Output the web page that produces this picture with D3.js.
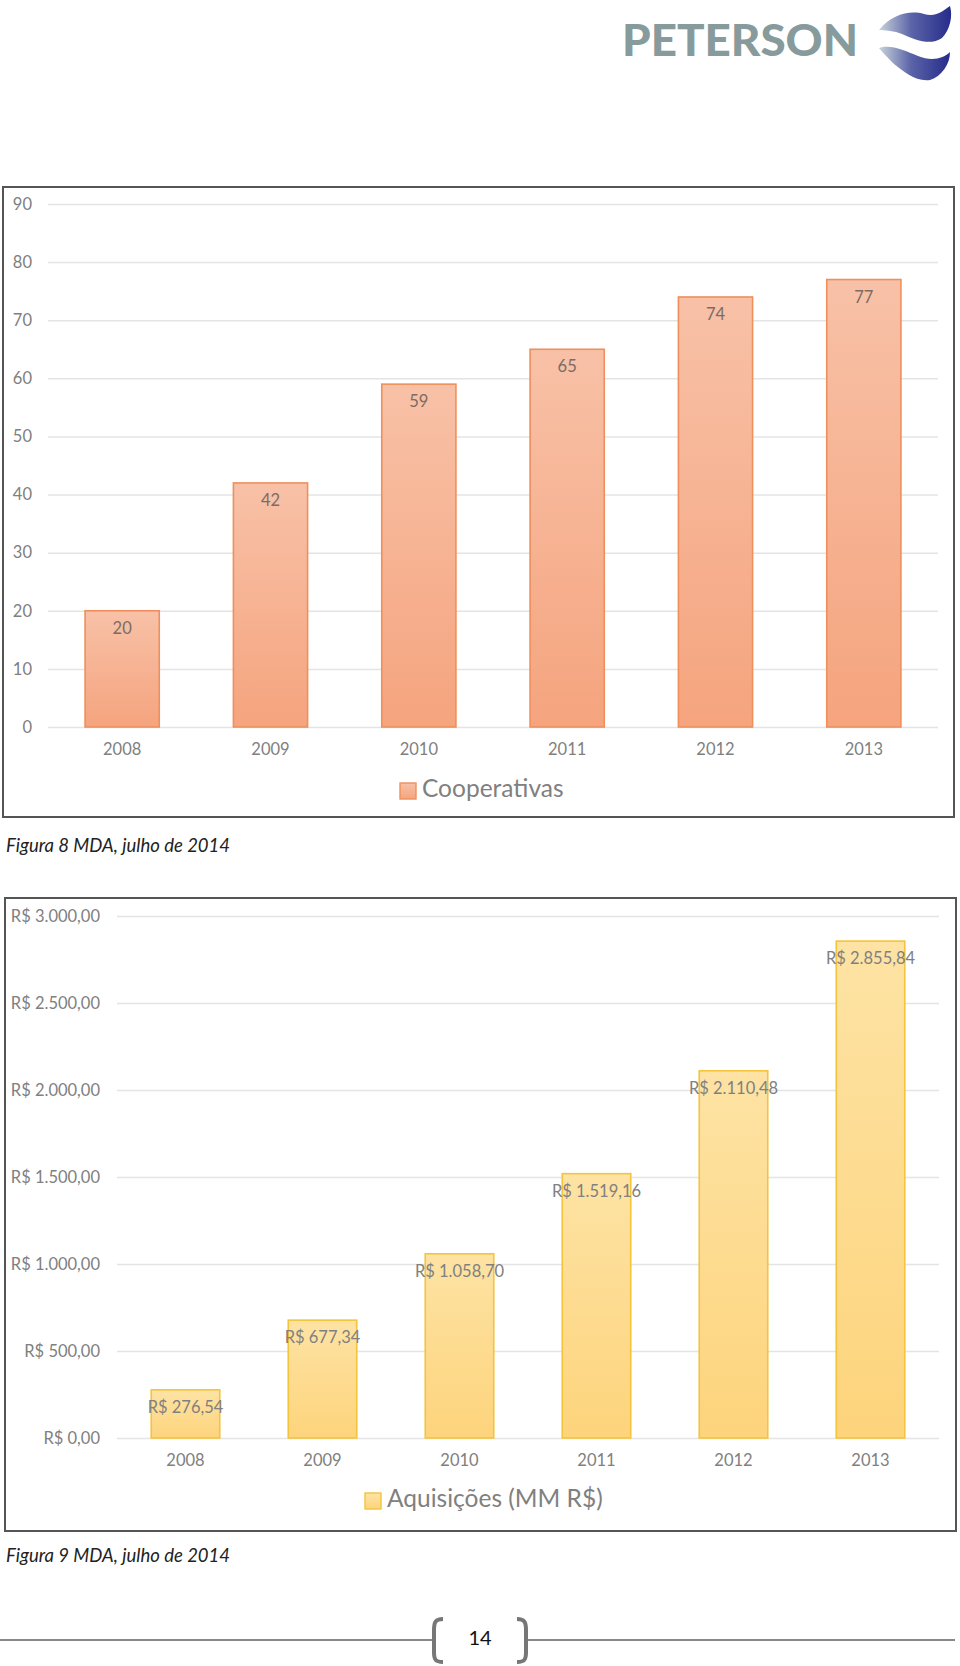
<!DOCTYPE html>
<html>
<head>
<meta charset="utf-8">
<script src="https://cdn.jsdelivr.net/npm/d3@7"></script>
<style>
    body { margin: 0; background: #fff; }
    text { font-family: Lato, "Open Sans", sans-serif; }
</style>
</head>
<body>
<script>

// data
var years = ["2008", "2009", "2010", "2011", "2012", "2013"];
var cooperativas = [20, 42, 59, 65, 74, 77];
var aquisicoes = [276.54, 677.34, 1058.70, 1519.16, 2110.48, 2855.84];
var coopTicks = [0, 10, 20, 30, 40, 50, 60, 70, 80, 90];
var aqTicks = [0, 500, 1000, 1500, 2000, 2500, 3000];

var ptBR = d3.formatLocale({
    decimal: ",",
    thousands: ".",
    grouping: [3],
    currency: ["R$ ", ""]
});
var money = ptBR.format("$,.2f");

var svg = d3.select("body").append("svg")
    .attr("width", 960)
    .attr("height", 1666);

var defs = svg.append("defs");

function addGradient(id, top, bottom) {
    var g = defs.append("linearGradient")
        .attr("id", id)
        .attr("x1", 0).attr("y1", 0)
        .attr("x2", 0).attr("y2", 1);
    g.append("stop").attr("offset", "0%").attr("stop-color", top);
    g.append("stop").attr("offset", "100%").attr("stop-color", bottom);
}
addGradient("orangeFill", "#f8c1a7", "#f5a47e");
addGradient("yellowFill", "#fde3a4", "#fdd47c");

// logo in the top right corner
var logoGrad = defs.append("linearGradient")
    .attr("id", "logoBlue")
    .attr("x1", 0).attr("y1", 0).attr("x2", 1).attr("y2", 0);
logoGrad.append("stop").attr("offset", "0%").attr("stop-color", "#c9d3da");
logoGrad.append("stop").attr("offset", "45%").attr("stop-color", "#5b64a8");
logoGrad.append("stop").attr("offset", "100%").attr("stop-color", "#262c8a");

svg.append("text")
    .attr("x", 622)
    .attr("y", 56)
    .attr("textLength", 236)
    .attr("lengthAdjust", "spacingAndGlyphs")
    .style("font-size", "44px")
    .style("font-weight", 900)
    .style("fill", "#879b9c")
    .text("PETERSON");

svg.append("path")
    .attr("d", "M879,30 C892,14 910,10 924,14 C936,18 944,10 950,6 C953,16 950,30 942,38 C930,46 916,40 902,34 C894,31 886,30 879,30 Z")
    .attr("fill", "url(#logoBlue)");
svg.append("path")
    .attr("d", "M879,48 C890,44 904,50 918,56 C932,62 944,58 950,52 C950,64 942,76 930,80 C916,82 904,72 894,64 C888,58 882,52 879,48 Z")
    .attr("fill", "url(#logoBlue)");

function drawChart(opt) {
    // 1. outer frame
    svg.append("rect")
        .attr("x", opt.frame[0])
        .attr("y", opt.frame[1])
        .attr("width", opt.frame[2] - opt.frame[0])
        .attr("height", opt.frame[3] - opt.frame[1])
        .attr("fill", "#fff")
        .attr("stroke", "#555")
        .attr("stroke-width", 2);

    // 2. scales
    var xScale = d3.scaleBand()
        .domain(years)
        .range(opt.xRange)
        .paddingInner(0.5)
        .paddingOuter(0.25);

    var yScale = d3.scaleLinear()
        .domain([0, opt.ticks[opt.ticks.length - 1]])
        .range(opt.yRange);

    // 3. gridlines + y labels
    var yAxis = svg.append("g")
        .attr("transform", "translate(" + opt.xRange[0] + ",0)")
        .call(d3.axisLeft(yScale)
            .tickValues(opt.ticks)
            .tickSize(-(opt.xRange[1] - opt.xRange[0]))
            .tickPadding(opt.labelGap)
            .tickFormat(opt.tickFormat));
    yAxis.select(".domain").remove();
    yAxis.selectAll("line").attr("stroke", "#e4e4e4").attr("stroke-width", 1.5);
    yAxis.selectAll("text")
        .style("font-size", "16.5px")
        .style("font-family", "Lato, sans-serif")
        .attr("fill", "#808080");

    // 4. bars
    svg.selectAll(".bar-" + opt.id)
        .data(opt.values)
        .enter().append("rect")
        .attr("class", "bar-" + opt.id)
        .attr("x", function (d, i) { return xScale(years[i]) })
        .attr("y", function (d) { return yScale(d) })
        .attr("width", xScale.bandwidth())
        .attr("height", function (d) { return yScale(0) - yScale(d) })
        .attr("fill", opt.fill)
        .attr("stroke", opt.stroke)
        .attr("stroke-width", 1.6);

    // 5. value labels inside the top of each bar
    svg.selectAll(".val-" + opt.id)
        .data(opt.values)
        .enter().append("text")
        .attr("class", "val-" + opt.id)
        .attr("x", function (d, i) { return xScale(years[i]) + xScale.bandwidth() / 2 })
        .attr("y", function (d) { return yScale(d) + 19 })
        .attr("text-anchor", "middle")
        .attr("dominant-baseline", "middle")
        .style("font-size", "16.5px")
        .style("fill", opt.labelColor)
        .text(opt.valueFormat);

    // 6. x axis labels
    var xAxis = svg.append("g")
        .attr("transform", "translate(0," + opt.yRange[0] + ")")
        .call(d3.axisBottom(xScale).tickSize(0).tickPadding(opt.xGap));
    xAxis.select(".domain").remove();
    xAxis.selectAll("text")
        .style("font-size", "16.5px")
        .style("font-family", "Lato, sans-serif")
        .attr("fill", "#808080");

    // 7. legend
    svg.append("rect")
        .attr("x", opt.legend[0])
        .attr("y", opt.legend[1] - 8)
        .attr("width", 16)
        .attr("height", 16)
        .attr("fill", opt.fill)
        .attr("stroke", opt.stroke)
        .attr("stroke-width", 1.4);
    svg.append("text")
        .attr("x", opt.legend[0] + 22)
        .attr("y", opt.legend[1])
        .attr("dominant-baseline", "middle")
        .style("font-size", "24.5px")
        .style("fill", "#808080")
        .text(opt.legendText);

    // 8. caption under the frame
    svg.append("text")
        .attr("x", 6)
        .attr("y", opt.caption)
        .attr("dominant-baseline", "middle")
        .style("font-size", "18.5px")
        .style("font-style", "italic")
        .style("fill", "#222")
        .text(opt.captionText);
}

drawChart({
    id: "coop",
    values: cooperativas,
    ticks: coopTicks,
    frame: [3, 187, 954, 817],
    xRange: [48, 938],
    yRange: [727, 204],
    labelGap: 16,
    xGap: 16,
    tickFormat: d3.format("d"),
    valueFormat: function (d) { return d },
    fill: "url(#orangeFill)",
    stroke: "#ee8f5c",
    labelColor: "#7a6c66",
    legend: [400, 791],
    legendText: "Cooperativas",
    caption: 847,
    captionText: "Figura 8 MDA, julho de 2014"
});

drawChart({
    id: "aq",
    values: aquisicoes,
    ticks: aqTicks,
    frame: [5, 898, 956, 1531],
    xRange: [117, 939],
    yRange: [1438, 916],
    labelGap: 17,
    xGap: 16,
    tickFormat: money,
    valueFormat: money,
    fill: "url(#yellowFill)",
    stroke: "#f3c43c",
    labelColor: "#808080",
    legend: [365, 1501],
    legendText: "Aquisições (MM R$)",
    caption: 1557,
    captionText: "Figura 9 MDA, julho de 2014"
});

// page footer with the page number
svg.append("line")
    .attr("x1", 0).attr("x2", 432)
    .attr("y1", 1640).attr("y2", 1640)
    .attr("stroke", "#888").attr("stroke-width", 2);
svg.append("line")
    .attr("x1", 527).attr("x2", 955)
    .attr("y1", 1640).attr("y2", 1640)
    .attr("stroke", "#888").attr("stroke-width", 2);
svg.append("path")
    .attr("d", "M443,1619 C435,1619 434,1623 434,1630 L434,1652 C434,1659 435,1662 443,1662")
    .attr("fill", "none").attr("stroke", "#777").attr("stroke-width", 4);
svg.append("path")
    .attr("d", "M517,1619 C525,1619 526,1623 526,1630 L526,1652 C526,1659 525,1662 517,1662")
    .attr("fill", "none").attr("stroke", "#777").attr("stroke-width", 4);
svg.append("text")
    .attr("x", 480)
    .attr("y", 1640)
    .attr("text-anchor", "middle")
    .attr("dominant-baseline", "middle")
    .style("font-size", "20px")
    .style("fill", "#111")
    .text("14");

</script>
</body>
</html>
